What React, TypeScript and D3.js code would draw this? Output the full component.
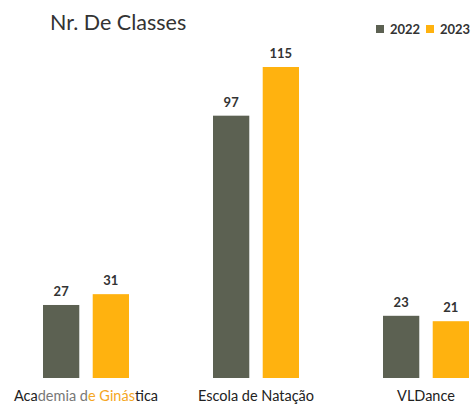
import React from "react";
import * as d3 from "d3";

const categories = ["Academia de Ginástica", "Escola de Natação", "VLDance"];
const years = ["2022", "2023"];
const values2022 = [27, 97, 23];
const values2023 = [31, 115, 21];
const colors = ["#5c6152", "#ffb20f"];

export default function App() {
  const W = 474, H = 405;
  const baseline = 378;
  const x = d3.scalePoint<string>().domain(categories).range([86, 426]);
  const inner = d3.scaleBand<string>().domain(years).range([-43, 43]).paddingInner(0.27);
  const y = d3.scaleLinear().domain([0, 115]).range([baseline, 67]);
  const series = [values2022, values2023];
  const font = "Lato, 'Open Sans', sans-serif";

  return (
    <svg width={W} height={H} style={{ position: "absolute", left: 0, top: 0, background: "#fff" }}>
      <text x={50} y={30} fontFamily={font} fontSize={21.5} fill="#333">Nr. De Classes</text>
      {years.map((yr, i) => {
        const lx = i === 0 ? 376 : 426;
        return (
          <g key={yr}>
            <rect x={lx} y={25} width={8} height={8} fill={colors[i]} />
            <text x={lx + 14} y={33.5} fontFamily={font} fontSize={13} fontWeight={700} fill="#333">{yr}</text>
          </g>
        );
      })}
      {categories.map((c, ci) => (
        <g key={c}>
          {years.map((yr, si) => {
            const v = series[si][ci];
            const bx = (x(c) as number) + (inner(yr) as number);
            return (
              <g key={yr}>
                <rect x={bx} y={y(v)} width={inner.bandwidth()} height={baseline - y(v)} fill={colors[si]} />
                <text x={bx + inner.bandwidth() / 2} y={y(v) - 9} textAnchor="middle" fontFamily={font} fontSize={13} fontWeight={700} fill="#333">{v}</text>
              </g>
            );
          })}
          <text x={x(c) as number} y={401} textAnchor="middle" fontFamily={font} fontSize={14.5} fill="#222">
            {ci === 0 ? (
              <>
                <tspan>Aca</tspan>
                <tspan fill="#777">demia d</tspan>
                <tspan fill="#f5a623">e Ginás</tspan>
                <tspan>tica</tspan>
              </>
            ) : c}
          </text>
        </g>
      ))}
    </svg>
  );
}
